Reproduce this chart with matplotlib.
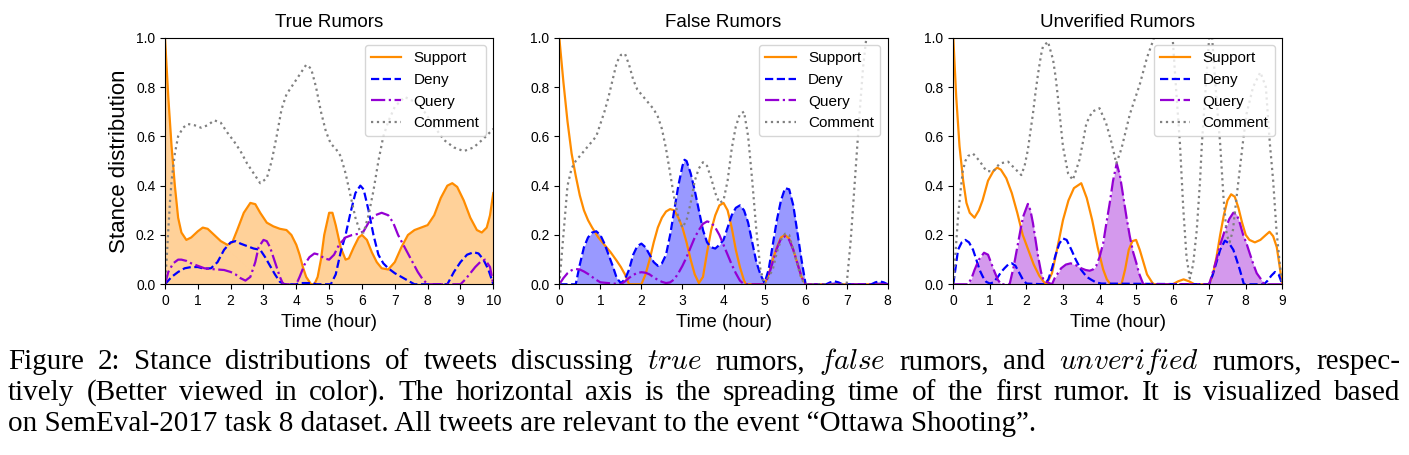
import matplotlib

matplotlib.use("Agg")
import matplotlib.pyplot as plt

plt.rcParams["font.family"] = ["Liberation Sans", "DejaVu Sans"]
plt.rcParams["mathtext.fontset"] = "cm"

FIG_W, FIG_H = 1409, 455
SERIF = ["Liberation Serif", "DejaVu Serif"]

# ---- True rumors (hours 0-10) ----
true_support_t = [0, 0.1, 0.2, 0.3, 0.4, 0.5, 0.65, 0.8, 1.0, 1.15, 1.3, 1.5, 1.7, 1.9, 2.05, 2.2,
                  2.4, 2.6, 2.75, 2.9, 3.1, 3.3, 3.5, 3.7, 3.85, 4.0, 4.1, 4.2, 4.3, 4.45, 4.55,
                  4.65, 4.75, 4.85, 5.0, 5.1, 5.2, 5.35, 5.5, 5.6, 5.75, 5.9, 6.0, 6.15, 6.3, 6.45,
                  6.6, 6.8, 7.0, 7.2, 7.4, 7.6, 7.8, 8.0, 8.2, 8.4, 8.6, 8.75, 8.9, 9.1, 9.3, 9.5,
                  9.65, 9.8, 9.9, 10.0]
true_support_v = [1.0, 0.76, 0.56, 0.40, 0.27, 0.21, 0.18, 0.19, 0.215, 0.23, 0.225, 0.2, 0.175,
                  0.16, 0.17, 0.22, 0.29, 0.33, 0.325, 0.29, 0.25, 0.235, 0.225, 0.22, 0.2, 0.16,
                  0.12, 0.07, 0.03, 0.0, 0.0, 0.03, 0.1, 0.2, 0.29, 0.29, 0.24, 0.15, 0.10, 0.105,
                  0.15, 0.19, 0.2, 0.18, 0.13, 0.09, 0.065, 0.06, 0.09, 0.15, 0.2, 0.22, 0.23, 0.24,
                  0.28, 0.35, 0.40, 0.41, 0.395, 0.34, 0.27, 0.22, 0.21, 0.23, 0.28, 0.37]

true_deny_t = [0, 0.2, 0.4, 0.6, 0.8, 1.0, 1.2, 1.4, 1.6, 1.8, 2.0, 2.15, 2.3, 2.5, 2.7, 2.9, 3.05,
               3.2, 3.35, 3.5, 3.65, 4.0, 4.1, 4.5, 4.6, 5.05, 5.2, 5.35, 5.5, 5.65, 5.8, 5.95,
               6.05, 6.2, 6.35, 6.5, 6.65, 6.8, 7.0, 7.2, 7.4, 7.6, 8.6, 8.8, 9.0, 9.2, 9.4, 9.55,
               9.7, 9.85, 10.0]
true_deny_v = [0, 0.03, 0.05, 0.065, 0.07, 0.07, 0.063, 0.065, 0.09, 0.14, 0.17, 0.175, 0.165,
               0.155, 0.145, 0.14, 0.11, 0.075, 0.04, 0.01, 0.0, 0.0, 0.005, 0.005, 0.0, 0.0,
               0.04, 0.13, 0.2, 0.29, 0.37, 0.40, 0.385, 0.3, 0.2, 0.12, 0.085, 0.065, 0.045,
               0.03, 0.015, 0.0, 0.0, 0.05, 0.09, 0.12, 0.13, 0.125, 0.1, 0.06, 0.0]

true_query_t = [0, 0.1, 0.25, 0.4, 0.5, 0.65, 0.8, 1.0, 1.2, 1.4, 1.6, 1.8, 2.0, 2.15, 2.3, 2.45,
                2.6, 2.75, 2.85, 3.0, 3.1, 3.2, 3.35, 3.5, 3.6, 4.0, 4.1, 4.25, 4.4, 4.55, 4.7,
                4.85, 5.0, 5.15, 5.3, 5.5, 5.7, 5.9, 6.05, 6.2, 6.4, 6.6, 6.8, 6.95, 7.1, 7.3, 7.5,
                7.7, 7.85, 8.0, 9.0, 9.15, 9.3, 9.45, 9.6, 9.75, 9.9, 10.0]
true_query_v = [0, 0.05, 0.085, 0.1, 0.1, 0.095, 0.085, 0.075, 0.065, 0.062, 0.06, 0.058, 0.05,
                0.04, 0.025, 0.015, 0.03, 0.09, 0.15, 0.18, 0.175, 0.15, 0.09, 0.03, 0.0, 0.0,
                0.03, 0.08, 0.11, 0.125, 0.12, 0.105, 0.1, 0.12, 0.16, 0.19, 0.2, 0.205, 0.215,
                0.25, 0.28, 0.29, 0.28, 0.25, 0.2, 0.15, 0.1, 0.05, 0.02, 0.0, 0.0, 0.02, 0.045,
                0.07, 0.09, 0.1, 0.07, 0.0]

true_comment_t = [0, 0.05, 0.1, 0.15, 0.2, 0.3, 0.4, 0.55, 0.7, 0.9, 1.1, 1.3, 1.5, 1.7, 1.9, 2.1,
                  2.3, 2.5, 2.7, 2.9, 3.1, 3.25, 3.4, 3.55, 3.7, 3.85, 4.0, 4.15, 4.3, 4.45, 4.6,
                  4.75, 4.9, 5.05, 5.2, 5.35, 5.5, 5.65, 5.8, 5.95, 6.05, 6.2, 6.35, 6.5, 6.65,
                  6.8, 7.0, 7.3, 7.6, 7.9, 8.2, 8.5, 8.8, 9.1, 9.4, 9.7, 10.0]
true_comment_v = [0.0, 0.1, 0.22, 0.33, 0.42, 0.53, 0.6, 0.635, 0.65, 0.645, 0.635, 0.645, 0.665,
                  0.655, 0.615, 0.58, 0.54, 0.49, 0.45, 0.41, 0.43, 0.5, 0.6, 0.71, 0.77, 0.8,
                  0.83, 0.86, 0.89, 0.875, 0.8, 0.7, 0.62, 0.57, 0.55, 0.52, 0.45, 0.36, 0.27,
                  0.21, 0.21, 0.28, 0.38, 0.5, 0.6, 0.66, 0.72, 0.76, 0.74, 0.7, 0.64, 0.585,
                  0.555, 0.54, 0.555, 0.59, 0.63]

# ---- False rumors (hours 0-8) ----
false_support_t = [0, 0.1, 0.2, 0.3, 0.4, 0.5, 0.6, 0.7, 0.8, 0.95, 1.1, 1.25, 1.4, 1.5, 1.6, 1.7,
                   2.0, 2.1, 2.2, 2.3, 2.4, 2.5, 2.6, 2.7, 2.8, 2.9, 3.0, 3.1, 3.2, 3.3, 3.4, 3.5,
                   3.6, 3.7, 3.8, 3.9, 4.0, 4.1, 4.2, 4.3, 4.4, 4.5, 4.55, 5.0, 5.1, 5.2, 5.3, 5.4,
                   5.5, 5.6, 5.7, 5.8, 5.9, 6.0, 8.0]
false_support_v = [1.0, 0.82, 0.66, 0.53, 0.44, 0.36, 0.3, 0.26, 0.23, 0.19, 0.16, 0.13, 0.095,
                   0.07, 0.04, 0.0, 0.0, 0.04, 0.1, 0.17, 0.23, 0.27, 0.295, 0.305, 0.3, 0.27,
                   0.23, 0.17, 0.1, 0.04, 0.005, 0.03, 0.13, 0.22, 0.28, 0.32, 0.33, 0.3, 0.23,
                   0.14, 0.07, 0.015, 0.0, 0.0, 0.04, 0.1, 0.15, 0.19, 0.2, 0.185, 0.14, 0.085,
                   0.03, 0.0, 0.0]

false_deny_t = [0, 0.4, 0.5, 0.6, 0.7, 0.8, 0.9, 1.0, 1.1, 1.2, 1.3, 1.4, 1.5, 1.6, 1.7, 1.8, 1.9,
                2.0, 2.1, 2.2, 2.3, 2.4, 2.5, 2.6, 2.7, 2.8, 2.9, 3.0, 3.05, 3.1, 3.2, 3.3, 3.4,
                3.5, 3.6, 3.7, 3.8, 3.9, 4.0, 4.1, 4.2, 4.3, 4.4, 4.5, 4.6, 4.7, 4.8, 4.9, 5.0,
                5.1, 5.2, 5.3, 5.4, 5.5, 5.6, 5.7, 5.8, 5.9, 6.0, 6.5, 6.6, 6.7, 6.8, 6.9, 7.6,
                7.7, 7.8, 7.9, 8.0]
false_deny_v = [0, 0.0, 0.08, 0.15, 0.19, 0.21, 0.215, 0.2, 0.165, 0.12, 0.075, 0.025, 0.005,
                0.02, 0.06, 0.12, 0.155, 0.165, 0.15, 0.12, 0.09, 0.075, 0.085, 0.12, 0.2, 0.3,
                0.4, 0.48, 0.505, 0.5, 0.45, 0.38, 0.3, 0.22, 0.17, 0.15, 0.145, 0.16, 0.18, 0.23,
                0.28, 0.31, 0.32, 0.3, 0.25, 0.17, 0.09, 0.04, 0.005, 0.06, 0.16, 0.26, 0.34,
                0.39, 0.385, 0.32, 0.21, 0.1, 0.0, 0.0, 0.008, 0.012, 0.008, 0.0, 0.0, 0.008,
                0.012, 0.008, 0.0]

false_query_t = [0, 0.1, 0.2, 0.3, 0.4, 0.5, 0.6, 0.7, 0.8, 0.9, 1.0, 1.5, 1.6, 1.7, 1.8, 1.9, 2.0,
                 2.1, 2.2, 2.3, 2.4, 2.5, 2.6, 2.7, 2.8, 2.9, 3.0, 3.1, 3.2, 3.3, 3.4, 3.5, 3.6,
                 3.7, 3.8, 3.9, 4.0, 4.1, 4.2, 4.3, 4.4, 4.5, 5.0, 5.1, 5.2, 5.3, 5.4, 5.5, 5.6,
                 5.7, 5.8, 5.9, 6.0, 8.0]
false_query_v = [0, 0.025, 0.045, 0.057, 0.062, 0.06, 0.052, 0.042, 0.03, 0.018, 0.008, 0.0,
                 0.012, 0.026, 0.038, 0.046, 0.049, 0.047, 0.04, 0.028, 0.018, 0.01, 0.005, 0.008,
                 0.02, 0.045, 0.075, 0.11, 0.15, 0.19, 0.22, 0.245, 0.255, 0.25, 0.23, 0.2, 0.16,
                 0.12, 0.08, 0.045, 0.015, 0.0, 0.0, 0.035, 0.09, 0.145, 0.185, 0.195, 0.18, 0.14,
                 0.085, 0.03, 0.0, 0.0]

false_comment_t = [0, 0.05, 0.1, 0.2, 0.3, 0.4, 0.5, 0.6, 0.7, 0.8, 0.9, 1.0, 1.1, 1.2, 1.3, 1.4,
                   1.5, 1.6, 1.7, 1.8, 1.9, 2.0, 2.1, 2.2, 2.3, 2.4, 2.5, 2.6, 2.7, 2.8, 2.9, 3.0,
                   3.1, 3.2, 3.3, 3.4, 3.5, 3.6, 3.7, 3.8, 3.9, 4.0, 4.1, 4.2, 4.3, 4.4, 4.5, 4.6,
                   4.7, 4.8, 4.9, 5.0, 5.1, 5.2, 5.3, 5.4, 5.5, 5.6, 5.7, 5.8, 5.9, 6.0, 7.0, 7.1,
                   7.2, 7.3, 7.4, 7.5, 7.7, 8.0]
false_comment_v = [0.0, 0.1, 0.2, 0.4, 0.47, 0.5, 0.52, 0.54, 0.56, 0.58, 0.6, 0.65, 0.7, 0.76,
                   0.83, 0.9, 0.93, 0.935, 0.89, 0.83, 0.79, 0.77, 0.75, 0.73, 0.71, 0.68, 0.63,
                   0.55, 0.45, 0.35, 0.27, 0.23, 0.26, 0.33, 0.42, 0.47, 0.495, 0.48, 0.43, 0.37,
                   0.33, 0.34, 0.42, 0.55, 0.64, 0.69, 0.7, 0.6, 0.42, 0.22, 0.06, 0.0, 0.03,
                   0.06, 0.13, 0.18, 0.205, 0.2, 0.14, 0.08, 0.02, 0.0, 0.0, 0.18, 0.42, 0.66,
                   0.88, 1.03, 1.3, 1.5]

# ---- Unverified rumors (hours 0-9) ----
unv_support_t = [0, 0.08, 0.17, 0.27, 0.36, 0.45, 0.58, 0.7, 0.8, 0.95, 1.1, 1.2, 1.3, 1.45, 1.6,
                 1.75, 1.9, 2.05, 2.2, 2.35, 2.5, 2.55, 2.7, 2.85, 3.0, 3.15, 3.3, 3.5, 3.65, 3.8,
                 3.95, 4.1, 4.2, 4.3, 4.6, 4.7, 4.8, 4.9, 5.0, 5.1, 5.2, 5.3, 5.45, 5.5, 6.0,
                 6.15, 6.3, 6.45, 6.6, 7.0, 7.1, 7.2, 7.3, 7.4, 7.5, 7.6, 7.7, 7.8, 7.9, 8.0, 8.1,
                 8.25, 8.4, 8.55, 8.65, 8.75, 8.85, 8.92, 9.0]
unv_support_v = [1.0, 0.76, 0.56, 0.42, 0.33, 0.29, 0.27, 0.3, 0.34, 0.42, 0.46, 0.473, 0.465,
                 0.43, 0.37, 0.29, 0.2, 0.14, 0.08, 0.035, 0.005, 0.0, 0.045, 0.15, 0.26, 0.34,
                 0.39, 0.41, 0.35, 0.26, 0.15, 0.06, 0.02, 0.0, 0.0, 0.06, 0.14, 0.175, 0.18,
                 0.14, 0.09, 0.04, 0.005, 0.0, 0.0, 0.012, 0.02, 0.012, 0.0, 0.0, 0.04, 0.11,
                 0.2, 0.28, 0.34, 0.365, 0.355, 0.31, 0.25, 0.2, 0.18, 0.17, 0.18, 0.2, 0.213,
                 0.195, 0.15, 0.08, 0.0]

unv_deny_t = [0, 0.13, 0.23, 0.33, 0.43, 0.54, 0.63, 0.72, 0.81, 0.9, 1.0, 1.1, 1.22, 1.31, 1.4,
              1.5, 1.6, 1.7, 1.81, 1.9, 2.0, 2.5, 2.6, 2.7, 2.8, 2.9, 3.0, 3.1, 3.23, 3.35, 3.5,
              3.65, 3.78, 3.9, 4.05, 7.0, 7.1, 7.2, 7.3, 7.43, 7.55, 7.66, 7.75, 7.84, 7.95, 8.5,
              8.6, 8.7, 8.8, 8.9, 9.0]
unv_deny_v = [0, 0.14, 0.17, 0.18, 0.17, 0.14, 0.1, 0.058, 0.03, 0.01, 0.003, 0.008, 0.03, 0.05,
              0.065, 0.08, 0.085, 0.075, 0.045, 0.02, 0.003, 0.0, 0.02, 0.065, 0.12, 0.165,
              0.186, 0.18, 0.14, 0.1, 0.058, 0.03, 0.018, 0.008, 0.003, 0.0, 0.04, 0.09, 0.14,
              0.177, 0.165, 0.14, 0.1, 0.058, 0.0, 0.0, 0.015, 0.035, 0.05, 0.04, 0.0]

unv_query_t = [0, 0.4, 0.5, 0.58, 0.7, 0.84, 0.95, 1.04, 1.13, 1.22, 1.31, 1.54, 1.65, 1.77, 1.85,
               1.91, 2.04, 2.11, 2.18, 2.25, 2.32, 2.4, 2.47, 2.7, 2.77, 2.86, 2.95, 3.08, 3.21,
               3.35, 3.5, 3.62, 3.73, 3.82, 3.91, 4.0, 4.1, 4.19, 4.28, 4.37, 4.47, 4.56, 4.65,
               4.74, 4.83, 4.92, 5.01, 5.08, 5.15, 5.2, 7.0, 7.1, 7.2, 7.3, 7.43, 7.55, 7.66,
               7.75, 7.84, 7.93, 8.02, 8.11, 8.2, 8.3, 8.43, 8.5, 9.0]
unv_query_v = [0, 0.0, 0.025, 0.058, 0.1, 0.128, 0.12, 0.085, 0.05, 0.018, 0.0, 0.0, 0.07, 0.166,
               0.23, 0.274, 0.326, 0.3, 0.247, 0.18, 0.112, 0.05, 0.015, 0.0, 0.024, 0.045,
               0.065, 0.08, 0.085, 0.078, 0.065, 0.058, 0.055, 0.06, 0.075, 0.11, 0.166, 0.25,
               0.33, 0.42, 0.49, 0.44, 0.355, 0.27, 0.193, 0.13, 0.085, 0.045, 0.018, 0.0, 0.0,
               0.05, 0.1, 0.16, 0.22, 0.265, 0.29, 0.285, 0.247, 0.2, 0.166, 0.125, 0.085,
               0.045, 0.018, 0.0, 0.0]

unv_comment_t = [0, 0.04, 0.13, 0.2, 0.26, 0.33, 0.4, 0.54, 0.72, 0.9, 1.09, 1.27, 1.5, 1.68, 1.86,
                 1.95, 2.04, 2.11, 2.18, 2.25, 2.32, 2.4, 2.45, 2.59, 2.73, 2.8, 2.86, 2.93, 3.0,
                 3.14, 3.27, 3.45, 3.55, 3.64, 3.8, 4.0, 4.18, 4.31, 4.46, 4.6, 4.83, 5.1, 5.3,
                 5.47, 5.75, 6.0, 6.1, 6.2, 6.29, 6.38, 6.47, 6.56, 6.66, 6.75, 6.8, 6.93, 7.0,
                 7.07, 7.2, 7.3, 7.39, 7.48, 7.56, 7.65, 7.75, 7.93, 8.02, 8.2, 8.4, 8.55, 8.66,
                 8.75, 8.84, 8.93, 9.0]
unv_comment_v = [0.0, 0.085, 0.274, 0.38, 0.46, 0.5, 0.52, 0.53, 0.5, 0.46, 0.457, 0.49, 0.497,
                 0.47, 0.443, 0.48, 0.545, 0.62, 0.693, 0.78, 0.855, 0.93, 0.963, 0.984, 0.91,
                 0.84, 0.76, 0.66, 0.558, 0.45, 0.423, 0.504, 0.58, 0.653, 0.7, 0.714, 0.653,
                 0.585, 0.49, 0.55, 0.69, 0.81, 0.92, 0.99, 1.15, 1.0, 0.78, 0.57, 0.31, 0.11,
                 0.024, 0.08, 0.22, 0.42, 0.57, 0.855, 1.0, 1.02, 0.75, 0.57, 0.355, 0.2, 0.17,
                 0.22, 0.355, 0.585, 0.69, 0.8, 0.86, 0.8, 0.57, 0.42, 0.22, 0.085, 0.0]

STANCE_STYLES = {
    "Support": dict(color="darkorange", linestyle="-"),
    "Deny": dict(color="blue", linestyle="--"),
    "Query": dict(color="darkviolet", linestyle="-."),
    "Comment": dict(color="gray", linestyle=":"),
}

PANELS = [
    ("True Rumors", 10, "Support", {
        "Support": (true_support_t, true_support_v),
        "Deny": (true_deny_t, true_deny_v),
        "Query": (true_query_t, true_query_v),
        "Comment": (true_comment_t, true_comment_v),
    }),
    ("False Rumors", 8, "Deny", {
        "Support": (false_support_t, false_support_v),
        "Deny": (false_deny_t, false_deny_v),
        "Query": (false_query_t, false_query_v),
        "Comment": (false_comment_t, false_comment_v),
    }),
    ("Unverified Rumors", 9, "Query", {
        "Support": (unv_support_t, unv_support_v),
        "Deny": (unv_deny_t, unv_deny_v),
        "Query": (unv_query_t, unv_query_v),
        "Comment": (unv_comment_t, unv_comment_v),
    }),
]

# axes boxes in pixels: (left, right)
AXES_X = [(165, 493.3), (559.3, 887.7), (953.3, 1282.3)]
AXES_TOP, AXES_BOTTOM = 37.7, 284.3

CAPTION = [
    ("Figure 2: Stance distributions of tweets discussing $true$ rumors, $false$ rumors, "
     "and $unverified$ rumors, respec-", True),
    ("tively (Better viewed in color). The horizontal axis is the spreading time of the "
     "first rumor. It is visualized based", True),
    ("on SemEval-2017 task 8 dataset. All tweets are relevant to the event "
     "\u201cOttawa Shooting\u201d.", False),
]
CAPTION_BASELINES = [369, 400, 431]
CAPTION_X0, CAPTION_X1 = 8, 1400
CAPTION_SIZE = 21


def draw_panel(ax, title, xmax, fill_key, series):
    for name, (t, v) in series.items():
        style = STANCE_STYLES[name]
        if name == fill_key:
            ax.fill_between(t, 0, v, color=style["color"], alpha=0.4, linewidth=0, zorder=1)
        ax.plot(t, v, linewidth=1.6, label=name, zorder=2, **style)

    ax.set_xlim(0, xmax)
    ax.set_ylim(0, 1)
    ax.set_xticks(range(0, xmax + 1))
    ax.set_yticks([0, 0.2, 0.4, 0.6, 0.8, 1.0])
    ax.tick_params(labelsize=10)
    ax.set_title(title, fontsize=13.5, pad=8)
    ax.set_xlabel("Time (hour)", fontsize=13.5)
    ax.legend(loc="upper right", fontsize=11)


def justify_line(fig, text, baseline, x0, x1):
    renderer = fig.canvas.get_renderer()
    words = text.split(" ")
    artists = [
        fig.text(0, 1 - baseline / FIG_H, w, fontsize=CAPTION_SIZE, family=SERIF, va="baseline")
        for w in words
    ]
    widths = [a.get_window_extent(renderer).width for a in artists]
    gap = (x1 - x0 - sum(widths)) / (len(words) - 1)
    x = x0
    for a, w in zip(artists, widths):
        a.set_x(x / FIG_W)
        x += w + gap


def main():
    fig = plt.figure(figsize=(FIG_W / 100, FIG_H / 100), dpi=100)

    for (title, xmax, fill_key, series), (left, right) in zip(PANELS, AXES_X):
        ax = fig.add_axes([
            left / FIG_W,
            1 - AXES_BOTTOM / FIG_H,
            (right - left) / FIG_W,
            (AXES_BOTTOM - AXES_TOP) / FIG_H,
        ])
        draw_panel(ax, title, xmax, fill_key, series)
        if title == "True Rumors":
            ax.set_ylabel("Stance distribution", fontsize=16)

    for (text, justified), baseline in zip(CAPTION, CAPTION_BASELINES):
        if justified:
            justify_line(fig, text, baseline, CAPTION_X0, CAPTION_X1)
        else:
            fig.text(CAPTION_X0 / FIG_W, 1 - baseline / FIG_H, text,
                     fontsize=CAPTION_SIZE, family=SERIF, va="baseline")

    fig.savefig("out.png", dpi=100)
    plt.close(fig)


if __name__ == "__main__":
    main()
